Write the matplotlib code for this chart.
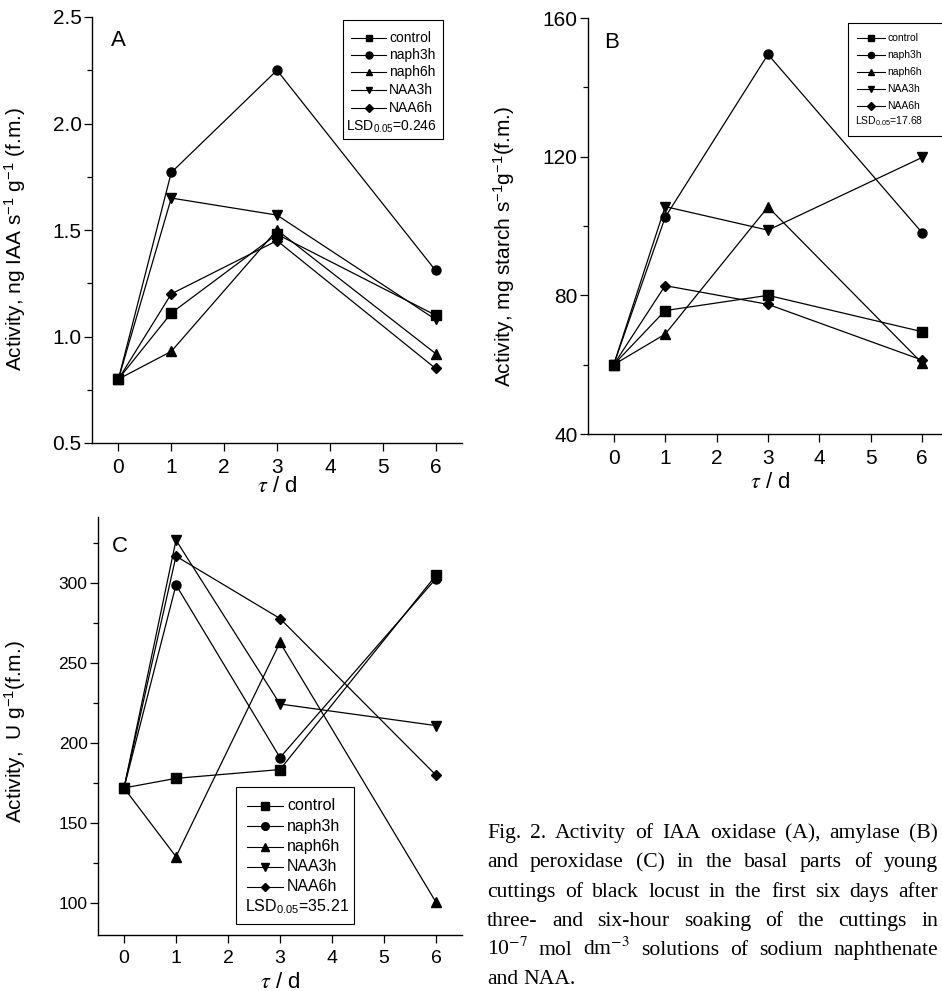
import matplotlib
matplotlib.use("Agg")
import matplotlib.pyplot as plt
from matplotlib.patches import Rectangle
from matplotlib.lines import Line2D
from matplotlib.transforms import Affine2D
from matplotlib.ticker import MultipleLocator, FixedLocator

plt.rcParams['font.family'] = ['Liberation Sans', 'DejaVu Sans']
plt.rcParams['mathtext.fontset'] = 'custom'
plt.rcParams['mathtext.rm'] = 'Liberation Sans'
plt.rcParams['mathtext.it'] = 'Liberation Sans:italic'
plt.rcParams['mathtext.bf'] = 'Liberation Sans:bold'

# ---------------- data ----------------
days = [0, 1, 3, 6]
series_names = ["control", "naph3h", "naph6h", "NAA3h", "NAA6h"]
series_markers = ['s', 'o', '^', 'v', 'D']

iaa_control = [0.80, 1.11, 1.48, 1.10]
iaa_naph3h = [0.80, 1.77, 2.25, 1.31]
iaa_naph6h = [0.80, 0.93, 1.50, 0.92]
iaa_NAA3h = [0.80, 1.65, 1.57, 1.08]
iaa_NAA6h = [0.80, 1.20, 1.45, 0.85]

amy_control = [60, 75.6, 80.0, 69.5]
amy_naph3h = [60, 102.5, 149.5, 98.0]
amy_naph6h = [60, 68.8, 105.5, 60.4]
amy_NAA3h = [60, 105.6, 98.8, 119.8]
amy_NAA6h = [60, 82.8, 77.4, 61.3]

per_control = [172, 178, 183.5, 305]
per_naph3h = [172, 299, 191, 303]
per_naph6h = [172, 129, 263, 100.5]
per_NAA3h = [172, 327, 224.5, 211]
per_NAA6h = [172, 317, 278, 180]

lsd_values = ["0.246", "17.68", "35.21"]
panel_letters = ["A", "B", "C"]
ylabels = [r"Activity, ng IAA s$^{-1}$ g$^{-1}$ (f.m.)",
           r"Activity, mg starch s$^{-1}$g$^{-1}$(f.m.)",
           r"Activity,  U g$^{-1}$(f.m.)"]
xlabel = r"$\tau$ / d"
xticks = [0, 1, 2, 3, 4, 5, 6]

caption_lines = [
    "Fig. 2. Activity of IAA oxidase (A), amylase (B)",
    "and peroxidase (C) in the basal parts of young",
    "cuttings of black locust in the first six days after",
    "three- and six-hour soaking of the cuttings in",
    "10$^{-7}$ mol dm$^{-3}$ solutions of sodium naphthenate",
    "and NAA.",
]

# ---------------- figure ----------------
W, H = 942, 991
fig = plt.figure(figsize=(W / 100, H / 100), dpi=100)
pix = Affine2D().scale(1 / W, -1 / H).translate(0, 1) + fig.transFigure


def rect(l, r, t, b):
    return [l / W, 1 - b / H, (r - l) / W, (b - t) / H]


def style_axes(ax, ylim, ymaj, ymin, ytick_fs, xtick_fs):
    ax.set_xlim(-0.5, 6.5)
    ax.set_ylim(*ylim)
    ax.xaxis.set_major_locator(FixedLocator(xticks))
    ax.yaxis.set_major_locator(MultipleLocator(ymaj))
    ax.yaxis.set_minor_locator(MultipleLocator(ymin))
    for s in ['top', 'right']:
        ax.spines[s].set_visible(False)
    for s in ['left', 'bottom']:
        ax.spines[s].set_linewidth(1.0)
    ax.tick_params(axis='both', which='major', direction='out', length=5.5, width=0.9)
    ax.tick_params(axis='both', which='minor', direction='out', length=3.5, width=0.9)
    ax.tick_params(axis='y', which='major', labelsize=ytick_fs, pad=2)
    ax.tick_params(axis='x', which='major', labelsize=xtick_fs, pad=5)


def plot_series(ax, data, ms):
    for vals, m in zip(data, series_markers):
        msz = ms * 0.8 if m == 'D' else ms
        ax.plot(days, vals, color='black', lw=0.9, marker=m, ms=msz,
                mfc='black', mec='black', clip_on=False)


def draw_legend(box, rows_y, h0, h1, tx, fs, ms, lsd_text, lsd_x, lsd_y):
    l, r, t, b = box
    fig.add_artist(Rectangle((l, t), r - l, b - t, transform=pix, fill=False,
                             ec='black', lw=0.8))
    for name, m, y in zip(series_names, series_markers, rows_y):
        fig.add_artist(Line2D([h0, h1], [y, y], transform=pix, color='black', lw=0.8))
        msz = ms * 0.8 if m == 'D' else ms
        fig.add_artist(Line2D([(h0 + h1) / 2], [y], transform=pix, marker=m,
                              ms=msz, color='black', mfc='black', mec='black'))
        fig.text(tx, y, name, transform=pix, fontsize=fs, va='center', ha='left')
    fig.text(lsd_x, lsd_y, r"LSD$_{0.05}$=" + lsd_text, transform=pix,
             fontsize=fs, va='center', ha='left')


# Panel A
axA = fig.add_axes(rect(92, 462, 17, 443))
style_axes(axA, (0.5, 2.5), 0.5, 0.25, 15, 15)
plot_series(axA, [iaa_control, iaa_naph3h, iaa_naph6h, iaa_NAA3h, iaa_NAA6h], 6.5)
axA.set_ylabel(ylabels[0], fontsize=15)
axA.yaxis.set_label_coords((28 - 92) / 370, 0.48)
axA.set_xlabel(xlabel, fontsize=16, math_fontfamily='stix')
axA.xaxis.set_label_coords(0.5, -44 / 426)
axA.xaxis.label.set_va('center')
fig.text(118, 40, panel_letters[0], transform=pix, fontsize=16, ha='center', va='center')

# Panel B
axB = fig.add_axes(rect(588, 948, 18, 434))
style_axes(axB, (40, 160), 40, 20, 15, 15)
plot_series(axB, [amy_control, amy_naph3h, amy_naph6h, amy_NAA3h, amy_NAA6h], 6.5)
axB.set_ylabel(ylabels[1], fontsize=15)
axB.yaxis.set_label_coords((517 - 588) / 360, 0.45)
axB.set_xlabel(xlabel, fontsize=16, math_fontfamily='stix')
axB.xaxis.set_label_coords((770 - 588) / 360, -48 / 416)
axB.xaxis.label.set_va('center')
fig.text(612, 43, panel_letters[1], transform=pix, fontsize=16, ha='center', va='center')

# Panel C
axC = fig.add_axes(rect(98, 462, 517, 935))
style_axes(axC, (80, 341.5), 50, 25, 12.5, 14)
plot_series(axC, [per_control, per_naph3h, per_naph6h, per_NAA3h, per_NAA6h], 6.5)
axC.set_ylabel(ylabels[2], fontsize=15)
axC.yaxis.set_label_coords((28 - 98) / 364, 0.486)
axC.set_xlabel(xlabel, fontsize=16, math_fontfamily='stix')
axC.xaxis.set_label_coords(0.5, -47 / 418)
axC.xaxis.label.set_va('center')
fig.text(120, 547, panel_letters[2], transform=pix, fontsize=16, ha='center', va='center')

# Legends
draw_legend((343, 443, 20, 139), [37.7, 54.5, 72.3, 90, 107.7], 351, 386, 389, 10, 5,
            lsd_values[0], 346, 126.5)
draw_legend((848, 952, 23, 136), [38, 55, 72, 89, 106], 857, 885, 887, 7.5, 4.5,
            lsd_values[1], 855, 121)
draw_legend((236, 354, 787, 924), [806, 826, 846.7, 866.7, 886.7], 247, 283, 287, 11.5, 5.5,
            lsd_values[2], 245, 906.7)

# Caption (justified, kept inside the canvas)
renderer = fig.canvas.get_renderer()
cap_fs = 15.6
cap_left, cap_right = 487, 938
baselines = [838, 867, 897, 926, 955, 984]


def text_w(s):
    t = fig.text(0, 0, s, fontsize=cap_fs, family='Liberation Serif', math_fontfamily='stix')
    w = t.get_window_extent(renderer).width
    t.remove()
    return w


space_w = text_w('a b') - text_w('ab')
for i, (line, yb) in enumerate(zip(caption_lines, baselines)):
    words = line.split(' ')
    widths = [text_w(w) for w in words]
    if i < len(caption_lines) - 1 and len(words) > 1:
        gap = (cap_right - cap_left - sum(widths)) / (len(words) - 1)
        gap = max(gap, 0.6 * space_w)
    else:
        gap = space_w
    x = cap_left
    for w, wd in zip(words, widths):
        fig.text(x, yb, w, transform=pix, fontsize=cap_fs, family='Liberation Serif',
                 math_fontfamily='stix', ha='left', va='baseline')
        x += wd + gap

fig.savefig('out.png', dpi=100)
